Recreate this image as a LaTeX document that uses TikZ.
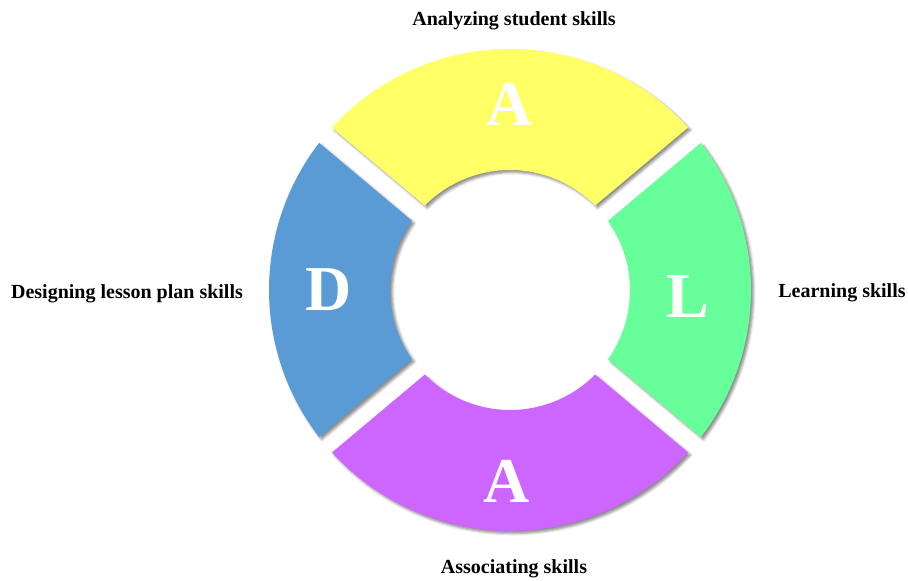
\documentclass[tikz,border=0pt]{standalone}
\usepackage{fontspec}
\setmainfont{Liberation Serif}
\usetikzlibrary{shadows.blur}
\definecolor{segyellow}{HTML}{FFFF66}
\definecolor{seggreen}{HTML}{66FF99}
\definecolor{segblue}{HTML}{5B9BD5}
\definecolor{segpurple}{HTML}{CC66FF}
\tikzset{
  seg/.style={blur shadow={shadow xshift=2.5pt,shadow yshift=-2.5pt,shadow blur radius=2.5pt,shadow opacity=45}},
  letter/.style={text=white,font=\fontsize{64}{64}\selectfont\bfseries,anchor=base,inner sep=0pt},
  lbl/.style={text=black,font=\fontsize{20}{20}\selectfont\bfseries,anchor=base,inner sep=0pt}
}
\begin{document}
\begin{tikzpicture}[x=1pt,y=1pt]
\useasboundingbox (0,0) rectangle (908,-581);
\begin{scope}[shift={(510,-290)}]
  % top (yellow)
  \path[seg,fill=segyellow] (42.38:241pt) arc[start angle=42.38,end angle=137.62,radius=241pt]
     -- (135.22:120pt) arc[start angle=135.22,end angle=44.78,radius=120pt] -- cycle;
  % left (blue)
  \path[seg,fill=segblue] (142.38:241pt) arc[start angle=142.38,end angle=217.62,radius=241pt]
     -- (215.22:120pt) arc[start angle=215.22,end angle=144.78,radius=120pt] -- cycle;
  % bottom (purple)
  \path[seg,fill=segpurple] (222.38:241pt) arc[start angle=222.38,end angle=317.62,radius=241pt]
     -- (315.22:120pt) arc[start angle=315.22,end angle=224.78,radius=120pt] -- cycle;
  % right (green)
  \path[seg,fill=seggreen] (-37.62:241pt) arc[start angle=-37.62,end angle=37.62,radius=241pt]
     -- (35.22:120pt) arc[start angle=35.22,end angle=-35.22,radius=120pt] -- cycle;
\end{scope}
\node[letter] (lA1) at (510,-125) {A};
\node[letter] (lD) at (329,-310) {D};
\node[letter] (lL) at (688,-317) {L};
\node[letter] (lA2) at (507,-502) {A};
\node[lbl] (tTop) at (514,-25) {Analyzing student skills};
\node[lbl] (tLeft) at (127,-298) {Designing lesson plan skills};
\node[lbl] (tRight) at (842,-297) {Learning skills};
\node[lbl] (tBot) at (514,-573) {Associating skills};
\end{tikzpicture}
\end{document}
